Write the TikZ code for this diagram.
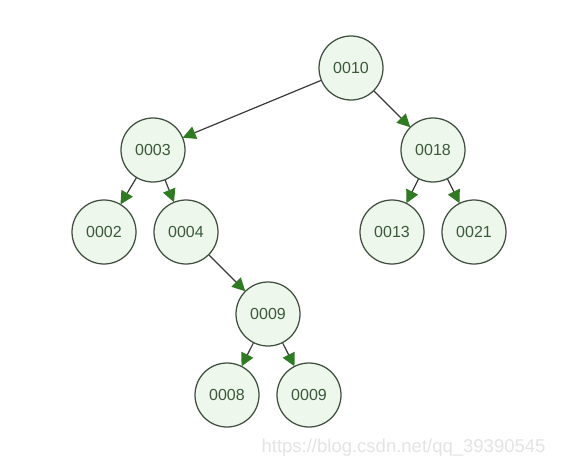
\documentclass[tikz,border=0pt]{standalone}
\usepackage{fontspec}
\setmainfont{Liberation Sans}
\usetikzlibrary{arrows.meta}
\definecolor{nodefill}{HTML}{EEF7EC}
\definecolor{nodeline}{HTML}{3F4F3F}
\definecolor{nodetext}{HTML}{3A5A3A}
\definecolor{arrowgreen}{HTML}{2F7A22}
\definecolor{edgegray}{HTML}{3A3A3A}
\definecolor{wm}{HTML}{E4E4E4}
\begin{document}
\begin{tikzpicture}[x=1pt,y=-1pt,
  treenode/.style={circle,draw=nodeline,fill=nodefill,line width=1.25pt,minimum size=64pt,inner sep=0pt,text=nodetext,font=\fontsize{16}{18}\selectfont},
  edge/.style={draw=edgegray,line width=1.2pt,-{Triangle[length=13pt,width=13pt,fill=arrowgreen,color=arrowgreen]},shorten >=-0.5pt}]
\useasboundingbox[fill=white] (0,0) rectangle (588,471);
\node[treenode] (n10) at (351,68) {0010};
\node[treenode] (n03) at (153,150) {0003};
\node[treenode] (n18) at (433,150) {0018};
\node[treenode] (n02) at (104,232) {0002};
\node[treenode] (n04) at (186,232) {0004};
\node[treenode] (n13) at (392,232) {0013};
\node[treenode] (n21) at (474,232) {0021};
\node[treenode] (n09) at (268,314) {0009};
\node[treenode] (n08) at (227,395) {0008};
\node[treenode] (n09b) at (309,395) {0009};
\draw[edge] (n10) -- (n03);
\draw[edge] (n10) -- (n18);
\draw[edge] (n03) -- (n02);
\draw[edge] (n03) -- (n04);
\draw[edge] (n18) -- (n13);
\draw[edge] (n18) -- (n21);
\draw[edge] (n04) -- (n09);
\draw[edge] (n09) -- (n08);
\draw[edge] (n09) -- (n09b);
\node[text=wm,font=\fontsize{18.5}{20}\selectfont,anchor=east] (wmk) at (549,448) {https://blog.csdn.net/qq\_39390545};
\end{tikzpicture}
\end{document}
